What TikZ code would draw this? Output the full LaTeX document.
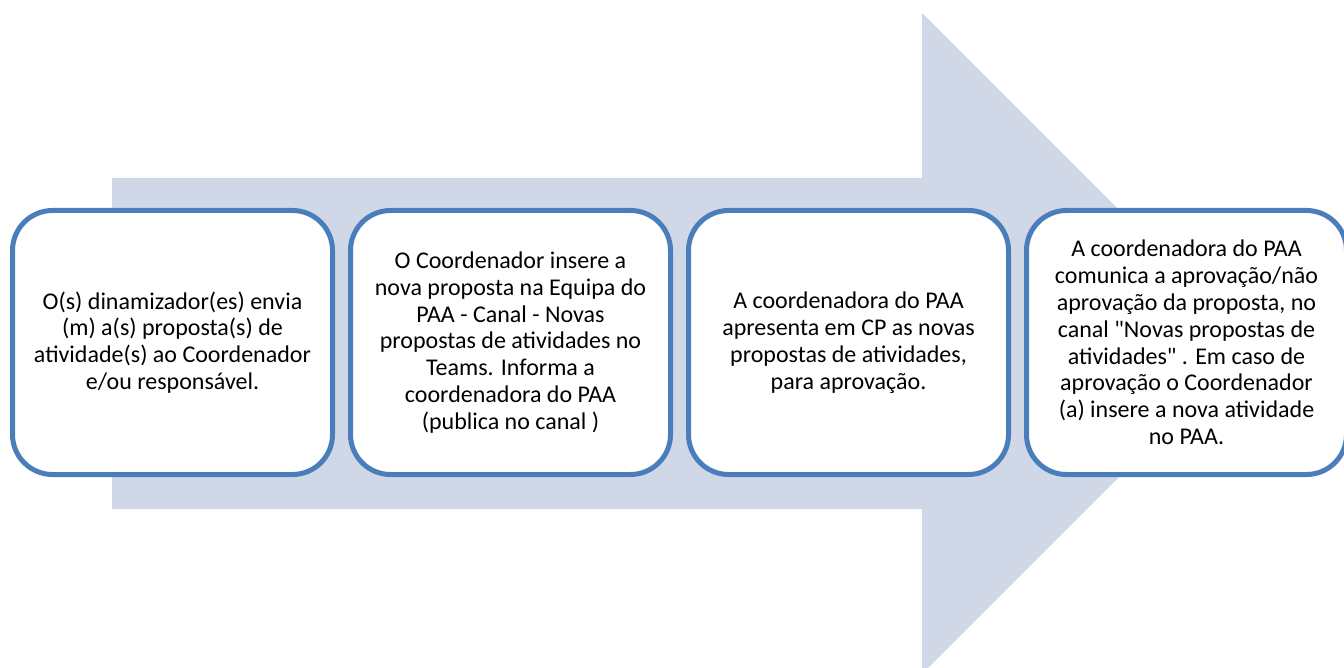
\documentclass[tikz,border=0pt]{standalone}
\usepackage{fontspec}
\setmainfont{Carlito}
\usetikzlibrary{positioning}

\definecolor{arrowfill}{RGB}{208,216,232}
\definecolor{boxline}{RGB}{74,126,187}

\begin{document}
\begin{tikzpicture}[
    x=0.5pt, y=-0.5pt,
    node distance=9pt,
    stepbox/.style={draw=boxline, fill=white, line width=2.5pt, rounded corners=20pt,
        minimum width=160pt, minimum height=132pt, outer sep=0pt, inner sep=0pt,
        align=center, font=\fontsize{12}{13.4}\selectfont}
]
\useasboundingbox (0,0) rectangle (1344,668);

% background arrow
\fill[arrowfill] (112,178) -- (922,178) -- (922,13) -- (1252.5,343.5)
    -- (922,674) -- (922,509) -- (112,509) -- cycle;

\node (send)    [stepbox] at (172.5,342.5) {O(s) dinamizador(es) envia\\(m) a(s) proposta(s) de\\atividade(s) ao Coordenador\\e/ou responsável.};
\node (insert)  [stepbox, right=of send] {O Coordenador insere a\\nova proposta na Equipa do\\PAA - Canal - Novas\\propostas de atividades no\\Teams. Informa a\\coordenadora do PAA\\(publica no canal )};
\node (present) [stepbox, right=of insert] {A coordenadora do PAA\\apresenta em CP as novas\\propostas de atividades,\\para aprovação.};
\node (notify)  [stepbox, right=of present] {A coordenadora do PAA\\comunica a aprovação/não\\aprovação da proposta, no\\canal \textquotedbl Novas propostas de\\atividades\textquotedbl{} . Em caso de\\aprovação o Coordenador\\(a) insere a nova atividade\\no PAA.};

\end{tikzpicture}
\end{document}
